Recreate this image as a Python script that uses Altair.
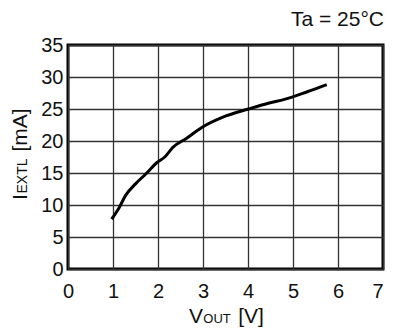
import altair as alt
import pandas as pd

# Data
vout = [0.97, 1.13, 1.28, 1.50, 1.75, 1.97, 2.15, 2.33, 2.63, 2.99, 3.43, 4.01, 4.45, 4.81, 5.32, 5.75]
iextl = [7.8, 9.5, 11.5, 13.3, 15.0, 16.6, 17.5, 19.0, 20.4, 22.2, 23.7, 25.0, 25.9, 26.5, 27.7, 28.8]

x_ticks = [0, 1, 2, 3, 4, 5, 6, 7]
y_ticks = [0, 5, 10, 15, 20, 25, 30, 35]

FONT = "Liberation Sans"
W, H = 315, 224

df = pd.DataFrame({"vout": vout, "iextl": iextl})

x_enc = alt.X("vout:Q", scale=alt.Scale(domain=[0, 7], nice=False),
              axis=alt.Axis(values=x_ticks, title=None, ticks=False, domain=False,
                            labelPadding=12, labelFontSize=20, labelFont=FONT,
                            labelColor="#111", grid=True, gridColor="#333333",
                            gridWidth=1.3, labelFlush=False,
                            labelAlign={"expr": "datum.value == 7 ? 'right' : 'center'"}))
y_enc = alt.Y("iextl:Q", scale=alt.Scale(domain=[0, 35], nice=False),
              axis=alt.Axis(values=y_ticks, title=None, ticks=False, domain=False,
                            labelPadding=5, labelFontSize=20, labelFont=FONT,
                            labelColor="#111", grid=True, gridColor="#333333",
                            gridWidth=1.3, labelFlush=False))

line = alt.Chart(df).mark_line(color="black", strokeWidth=3,
                               interpolate="monotone").encode(x=x_enc, y=y_enc)

def txt(s, x, y, size, align="center", angle=0):
    return alt.Chart(pd.DataFrame({"t": [s]})).mark_text(
        font=FONT, fontSize=size, align=align, baseline="alphabetic",
        angle=angle, color="#111"
    ).encode(text="t:N", x=alt.value(x), y=alt.value(y))

annots = [
    txt("Ta = 25°C", W + 1, -19, 21, align="right"),
    # x title: V_OUT [V]
    txt("V", 128, 278, 21),
    txt("OUT", 149, 278, 13),
    txt("[V]", 183, 278, 21),
    # y title: I_EXTL [mA]
    txt("I", -41, 152, 21, angle=270),
    txt("EXTL", -41, 131, 14, angle=270),
    txt("[mA]", -41, 85, 21, angle=270),
]

chart = alt.layer(line, *annots).properties(
    width=W, height=H,
    autosize=alt.AutoSizeParams(type="none"),
    padding={"left": 60, "top": 37, "right": 2, "bottom": 59},
).configure_view(stroke="black", strokeWidth=3)

chart.save("out.html", embed_options={"renderer": "svg", "actions": False})
